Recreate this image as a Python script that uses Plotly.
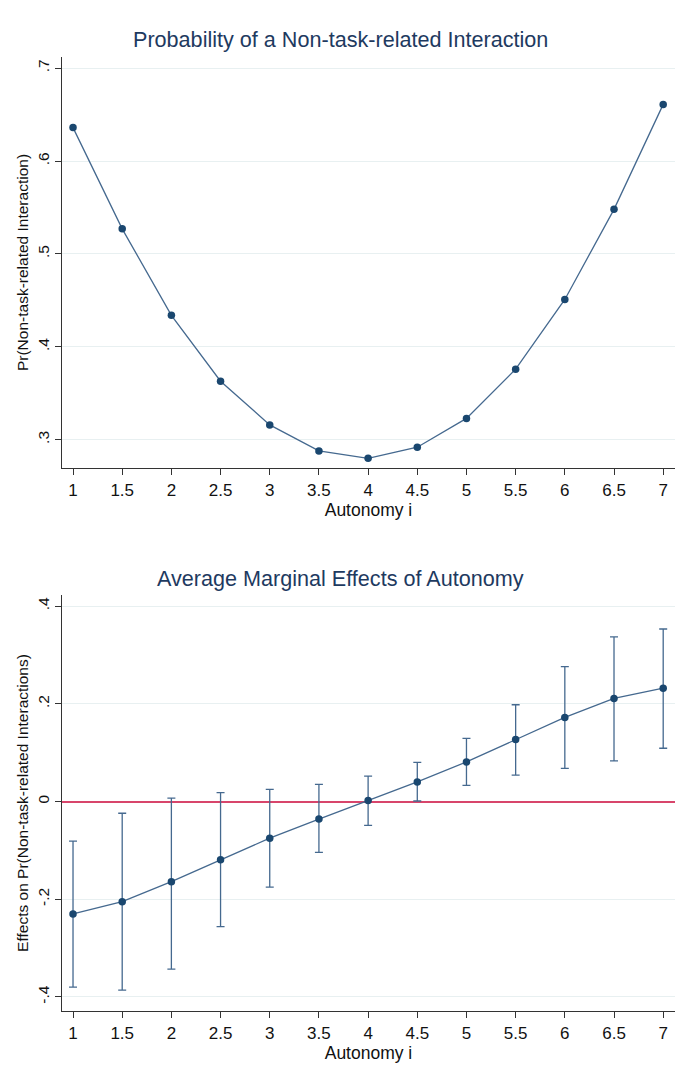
import plotly.graph_objects as go

# Autonomy levels (x for both panels)
autonomy = [1, 1.5, 2, 2.5, 3, 3.5, 4, 4.5, 5, 5.5, 6, 6.5, 7]
x_tick_text = ["1", "1.5", "2", "2.5", "3", "3.5", "4", "4.5", "5", "5.5", "6", "6.5", "7"]

# Predicted probability of a non-task-related interaction
pr_nontask = [0.636, 0.527, 0.434, 0.363, 0.316, 0.288, 0.280, 0.292,
              0.323, 0.376, 0.451, 0.548, 0.661]

# Average marginal effects of autonomy with 95% CI bounds
ame = [-0.230, -0.205, -0.164, -0.119, -0.075, -0.036, 0.002, 0.040,
       0.081, 0.127, 0.172, 0.211, 0.232]
ame_upper = [-0.081, -0.024, 0.007, 0.018, 0.025, 0.035, 0.052, 0.080,
             0.129, 0.198, 0.276, 0.337, 0.353]
ame_lower = [-0.380, -0.386, -0.343, -0.256, -0.175, -0.104, -0.049, 0.001,
             0.033, 0.054, 0.068, 0.083, 0.109]

top_y_ticks = [0.3, 0.4, 0.5, 0.6, 0.7]
top_y_text = [".3", ".4", ".5", ".6", ".7"]
bot_y_ticks = [-0.4, -0.2, 0, 0.2, 0.4]
bot_y_text = ["-.4", "-.2", "0", ".2", ".4"]

MARKER = "#1a476f"
LINE = "#45698f"
TITLE = "#1e3a5f"
GRID = "#e8f0f1"
AXIS = "#333333"
REFLINE = "#d8456b"
FONT = "Liberation Sans, Arial, sans-serif"

W, H = 681, 1080
err_up = [u - m for u, m in zip(ame_upper, ame)]
err_dn = [m - l for m, l in zip(ame, ame_lower)]

fig = go.Figure()

fig.add_trace(go.Scatter(
    x=autonomy, y=pr_nontask, mode="lines+markers",
    line=dict(color=LINE, width=1.3),
    marker=dict(color=MARKER, size=7.5),
    xaxis="x", yaxis="y", showlegend=False,
))

fig.add_trace(go.Scatter(
    x=autonomy, y=ame, mode="lines+markers",
    line=dict(color=LINE, width=1.3),
    marker=dict(color=MARKER, size=7.5),
    error_y=dict(type="data", symmetric=False, array=err_up, arrayminus=err_dn,
                 color=LINE, thickness=1.3, width=4),
    xaxis="x2", yaxis="y2", showlegend=False,
))

x_dom = [62 / W, 675 / W]

def xaxis_cfg(anchor):
    return dict(
        domain=x_dom, anchor=anchor, range=[0.888, 7.12],
        tickmode="array", tickvals=autonomy, ticktext=x_tick_text,
        ticks="outside", ticklen=6, tickcolor=AXIS, tickwidth=1,
        showline=True, linecolor=AXIS, linewidth=1.2,
        showgrid=False, zeroline=False,
        tickfont=dict(size=17, color="#111111", family=FONT),
        title=dict(text="Autonomy i", font=dict(size=17.5, color="#111111", family=FONT),
                   standoff=0),
        automargin=False,
    )

def yaxis_cfg(anchor, dom, rng, tv, tt, title, refline=False):
    return dict(
        domain=dom, anchor=anchor, range=rng,
        tickmode="array", tickvals=tv, ticktext=tt, tickangle=-90,
        ticks="outside", ticklen=6, tickcolor=AXIS, tickwidth=1,
        showline=True, linecolor=AXIS, linewidth=1.2,
        showgrid=True, gridcolor=GRID, gridwidth=1,
        # the zero line doubles as the red y = 0 reference line
        zeroline=refline, zerolinecolor=REFLINE, zerolinewidth=2,
        tickfont=dict(size=15.5, color="#111111", family=FONT),
        title=dict(text=title, font=dict(size=15.5, color="#111111", family=FONT),
                   standoff=2),
        automargin=False,
    )

fig.update_layout(
    width=W, height=H,
    margin=dict(l=0, r=0, t=0, b=0),
    paper_bgcolor="white", plot_bgcolor="white",
    font=dict(family=FONT),
    xaxis=xaxis_cfg("y"),
    yaxis=yaxis_cfg("x", [1 - 468 / H, 1 - 57 / H], [0.2696, 0.712],
                    top_y_ticks, top_y_text, "Pr(Non-task-related Interaction)"),
    xaxis2=xaxis_cfg("y2"),
    yaxis2=yaxis_cfg("x2", [1 - 1011 / H, 1 - 595 / H], [-0.4287, 0.4226],
                     bot_y_ticks, bot_y_text,
                     "Effects on Pr(Non-task-related Interactions)", refline=True),
    annotations=[
        dict(text="Probability of a Non-task-related Interaction", x=0.5, y=1 - 40 / H,
             xref="paper", yref="paper", showarrow=False, xanchor="center", yanchor="middle",
             font=dict(size=21.6, color=TITLE, family=FONT)),
        dict(text="Average Marginal Effects of Autonomy", x=0.5, y=1 - 578 / H,
             xref="paper", yref="paper", showarrow=False, xanchor="center", yanchor="middle",
             font=dict(size=21.6, color=TITLE, family=FONT)),
    ],
)

fig.write_html("out.html")
